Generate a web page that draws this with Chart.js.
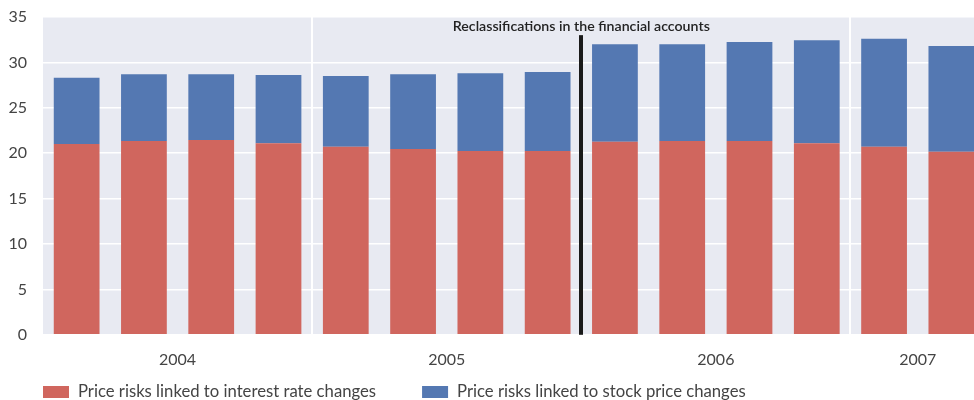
<!DOCTYPE html>
<html>
<head>
<meta charset="utf-8">
<script src="https://cdn.jsdelivr.net/npm/chart.js@4"></script>
<style>
  html, body { margin: 0; padding: 0; background: #fff; }
  #clip { width: 974px; height: 400px; overflow: hidden; position: relative; }
  #wrap { width: 990px; height: 400px; position: absolute; left: 0; top: 0; }
</style>
</head>
<body>
<div id="clip"><div id="wrap"><canvas id="c"></canvas></div></div>
<script>
// ---- data ----
const quarters = ['2004 Q1','2004 Q2','2004 Q3','2004 Q4',
                  '2005 Q1','2005 Q2','2005 Q3','2005 Q4',
                  '2006 Q1','2006 Q2','2006 Q3','2006 Q4',
                  '2007 Q1','2007 Q2'];
const interestRateRisk = [21.0, 21.35, 21.45, 21.1, 20.7, 20.45, 20.25, 20.25, 21.25, 21.35, 21.35, 21.1, 20.7, 20.15];
const stockPriceRisk   = [7.3, 7.35, 7.25, 7.5, 7.8, 8.25, 8.55, 8.7, 10.75, 10.65, 10.9, 11.35, 11.9, 11.65];
const seriesNames = ['Price risks linked to interest rate changes', 'Price risks linked to stock price changes'];
const yTicks = [0, 5, 10, 15, 20, 25, 30, 35];
const breakAfter = '2005 Q4';
const breakLabel = 'Reclassifications in the financial accounts';
const breakTop = 33;

// year groups derived from the categories
const years = [...new Set(quarters.map(q => q.slice(0, 4)))];
const yearCentres = years.map(y => {
  const idx = quarters.map((q, i) => q.startsWith(y) ? i : -1).filter(i => i >= 0);
  return (idx[0] + idx[idx.length - 1]) / 2;
});
const breakPos = quarters.indexOf(breakAfter) + 0.5;
const separators = years.slice(0, -1).map(y => {
  let last = -1; quarters.forEach((q, i) => { if (q.startsWith(y)) last = i; });
  return last + 0.5;
}).filter(v => v !== breakPos);

const FONT = 'Lato, "Open Sans", sans-serif';
const TXT = '#444444';
const RED = '#D0665E';
const BLUE = '#5478B2';

const bgPlugin = {
  id: 'bg',
  beforeDraw(chart) {
    const {ctx, chartArea: a} = chart;
    ctx.save();
    ctx.fillStyle = '#E8EAF2';
    ctx.fillRect(a.left, a.top, a.right - a.left, a.bottom - a.top);
    ctx.restore();
  },
  beforeDatasetsDraw(chart) {
    const {ctx, chartArea: a, scales} = chart;
    ctx.save();
    ctx.strokeStyle = '#ffffff';
    ctx.lineWidth = 2;
    separators.forEach(v => {
      const x = Math.round(scales.xy.getPixelForValue(v));
      ctx.beginPath();
      ctx.moveTo(x, a.top);
      ctx.lineTo(x, a.bottom);
      ctx.stroke();
    });
    ctx.restore();
  }
};

const breakPlugin = {
  id: 'breakline',
  afterDatasetsDraw(chart) {
    const {ctx, chartArea: a, scales} = chart;
    const x = scales.xy.getPixelForValue(breakPos);
    const yTop = scales.y.getPixelForValue(breakTop);
    ctx.save();
    ctx.fillStyle = '#1a1a1a';
    ctx.fillRect(Math.round(x) - 2, yTop, 4, a.bottom - yTop);
    ctx.fillStyle = '#222';
    ctx.font = '600 14.2px ' + FONT;
    ctx.textAlign = 'center';
    ctx.textBaseline = 'alphabetic';
    ctx.fillText(breakLabel, x, yTop - 4);
    ctx.restore();
  }
};

const legendPlugin = {
  id: 'customLegend',
  afterDraw(chart) {
    const {ctx, chartArea: a} = chart;
    ctx.save();
    ctx.font = '16.7px ' + FONT;
    ctx.textBaseline = 'middle';
    ctx.textAlign = 'left';
    let x = a.left;
    const y = 392;
    chart.data.datasets.forEach(ds => {
      ctx.fillStyle = ds.backgroundColor;
      ctx.fillRect(x, y - 6, 26, 12);
      ctx.fillStyle = TXT;
      ctx.fillText(ds.label, x + 35, y);
      x += 35 + ctx.measureText(ds.label).width + 46;
    });
    ctx.restore();
  }
};

new Chart(document.getElementById('c'), {
  type: 'bar',
  data: {
    labels: quarters,
    datasets: [
      { label: seriesNames[0], data: interestRateRisk, backgroundColor: RED, xAxisID: 'x', stack: 's' },
      { label: seriesNames[1], data: stockPriceRisk, backgroundColor: BLUE, xAxisID: 'x', stack: 's' }
    ]
  },
  options: {
    responsive: true,
    maintainAspectRatio: false,
    animation: false,
    devicePixelRatio: 1,
    layout: { padding: { top: 17, right: 5, bottom: 16, left: 0 } },
    datasets: { bar: { categoryPercentage: 0.68, barPercentage: 1 } },
    plugins: { legend: { display: false }, tooltip: { enabled: false } },
    scales: {
      x: {
        type: 'category',
        stacked: true,
        display: false,
        offset: true
      },
      xy: {
        type: 'linear',
        position: 'bottom',
        min: -0.5,
        max: quarters.length - 0.5,
        offset: false,
        border: { display: false },
        afterBuildTicks(axis) {
          axis.ticks = yearCentres.map(v => ({ value: v }));
        },
        ticks: {
          autoSkip: false,
          maxRotation: 0,
          padding: 15,
          color: TXT,
          font: { family: FONT, size: 16 },
          callback(v) {
            const i = yearCentres.indexOf(v);
            return i >= 0 ? years[i] : '';
          }
        },
        grid: { display: false, drawTicks: false, tickLength: 0 }
      },
      y: {
        stacked: true,
        min: 0,
        max: 35,
        border: { display: false },
        afterBuildTicks(axis) { axis.ticks = yTicks.map(v => ({ value: v })); },
        afterFit(axis) { axis.width = 43; },
        ticks: {
          padding: 0,
          color: TXT,
          font: { family: FONT, size: 16 }
        },
        grid: { color: '#ffffff', lineWidth: 1.5, drawTicks: true, tickLength: 16, tickColor: 'rgba(0,0,0,0)' }
      }
    }
  },
  plugins: [bgPlugin, breakPlugin, legendPlugin]
});
</script>
</body>
</html>
